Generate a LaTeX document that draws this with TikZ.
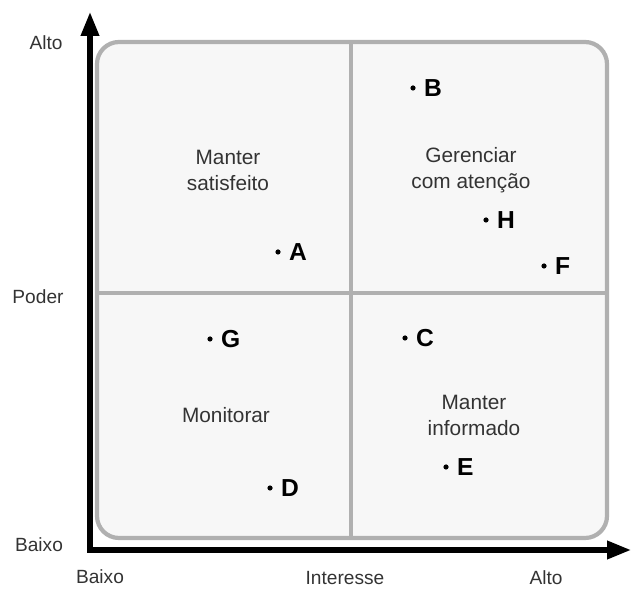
\documentclass[tikz,border=0pt]{standalone}
\usepackage{fontspec}
\setmainfont{Liberation Sans}
\usetikzlibrary{arrows.meta, positioning}

\begin{document}
\begin{tikzpicture}[
    axis/.style={line width=3.6pt, black},
    frame/.style={draw=gray!62, line width=3pt, fill=gray!6, rounded corners=0.55cm},
    divider/.style={draw=gray!62, line width=3pt},
    axlabel/.style={font=\fontsize{13.6}{16}\selectfont, text=black!80, inner sep=0pt},
    quadlabel/.style={font=\fontsize{14.8}{18.5}\selectfont, text=black!80, align=center, inner sep=0pt},
    pt/.style={circle, fill=black, inner sep=0pt, minimum size=1.3mm},
    tag/.style={font=\fontsize{17.5}{20}\selectfont\bfseries, inner sep=0pt},
  ]
    \useasboundingbox (-2.25,-0.95) rectangle (13.55,13.75);

    % === matrix frame and quadrants ===
    \draw[frame] (0.175,0.3) rectangle (12.925,12.7);
    \draw[divider] (6.525,0.3) -- (6.525,12.7);
    \draw[divider] (0.175,6.425) -- (12.925,6.425);

    % === axes ===
    \coordinate (O) at (0,0);
    \coordinate (ytip) at (0,13.45);
    \coordinate (xtip) at (13.525,0);
    \draw[axis, {Triangle[length=0.6cm, width=0.44cm]}-{Triangle[length=0.6cm, width=0.44cm]}]
      (ytip) -- (O) -- (xtip);

    % axis labels
    \node[axlabel] (yhigh) at (-1.1, 12.675) {Alto};
    \node[axlabel] (ymid)  at (-1.3, 6.325) {Poder};
    \node[axlabel] (ylow)  at (-1.275, 0.125) {Baixo};
    \node[axlabel] (xlow)  at (0.25, -0.675) {Baixo};
    \node[axlabel] (xmid)  at (6.375, -0.7) {Interesse};
    \node[axlabel] (xhigh) at (11.4, -0.7) {Alto};

    % quadrant names
    \node[quadlabel] (qsat) at (3.45, 9.5) {Manter\\satisfeito};
    \node[quadlabel] (qger) at (9.525, 9.5) {Gerenciar\\com atenção};
    \node[quadlabel] (qmon) at (3.4, 3.375) {Monitorar};
    \node[quadlabel] (qinf) at (9.6, 3.375) {Manter\\informado};

    % === stakeholders ===
    \node[pt] (A) at (4.7, 7.45) {};
    \node[tag, right=2mm of A] (lA) {A};
    \node[pt] (B) at (8.075, 11.55) {};
    \node[tag, right=2mm of B] (lB) {B};
    \node[pt] (H) at (9.9, 8.25) {};
    \node[tag, right=2mm of H] (lH) {H};
    \node[pt] (F) at (11.35, 7.1) {};
    \node[tag, right=2mm of F] (lF) {F};
    \node[pt] (G) at (3.0, 5.275) {};
    \node[tag, right=2mm of G] (lG) {G};
    \node[pt] (D) at (4.5, 1.55) {};
    \node[tag, right=2mm of D] (lD) {D};
    \node[pt] (C) at (7.875, 5.3) {};
    \node[tag, right=2mm of C] (lC) {C};
    \node[pt] (E) at (8.9, 2.075) {};
    \node[tag, right=2mm of E] (lE) {E};
  \end{tikzpicture}
\end{document}
